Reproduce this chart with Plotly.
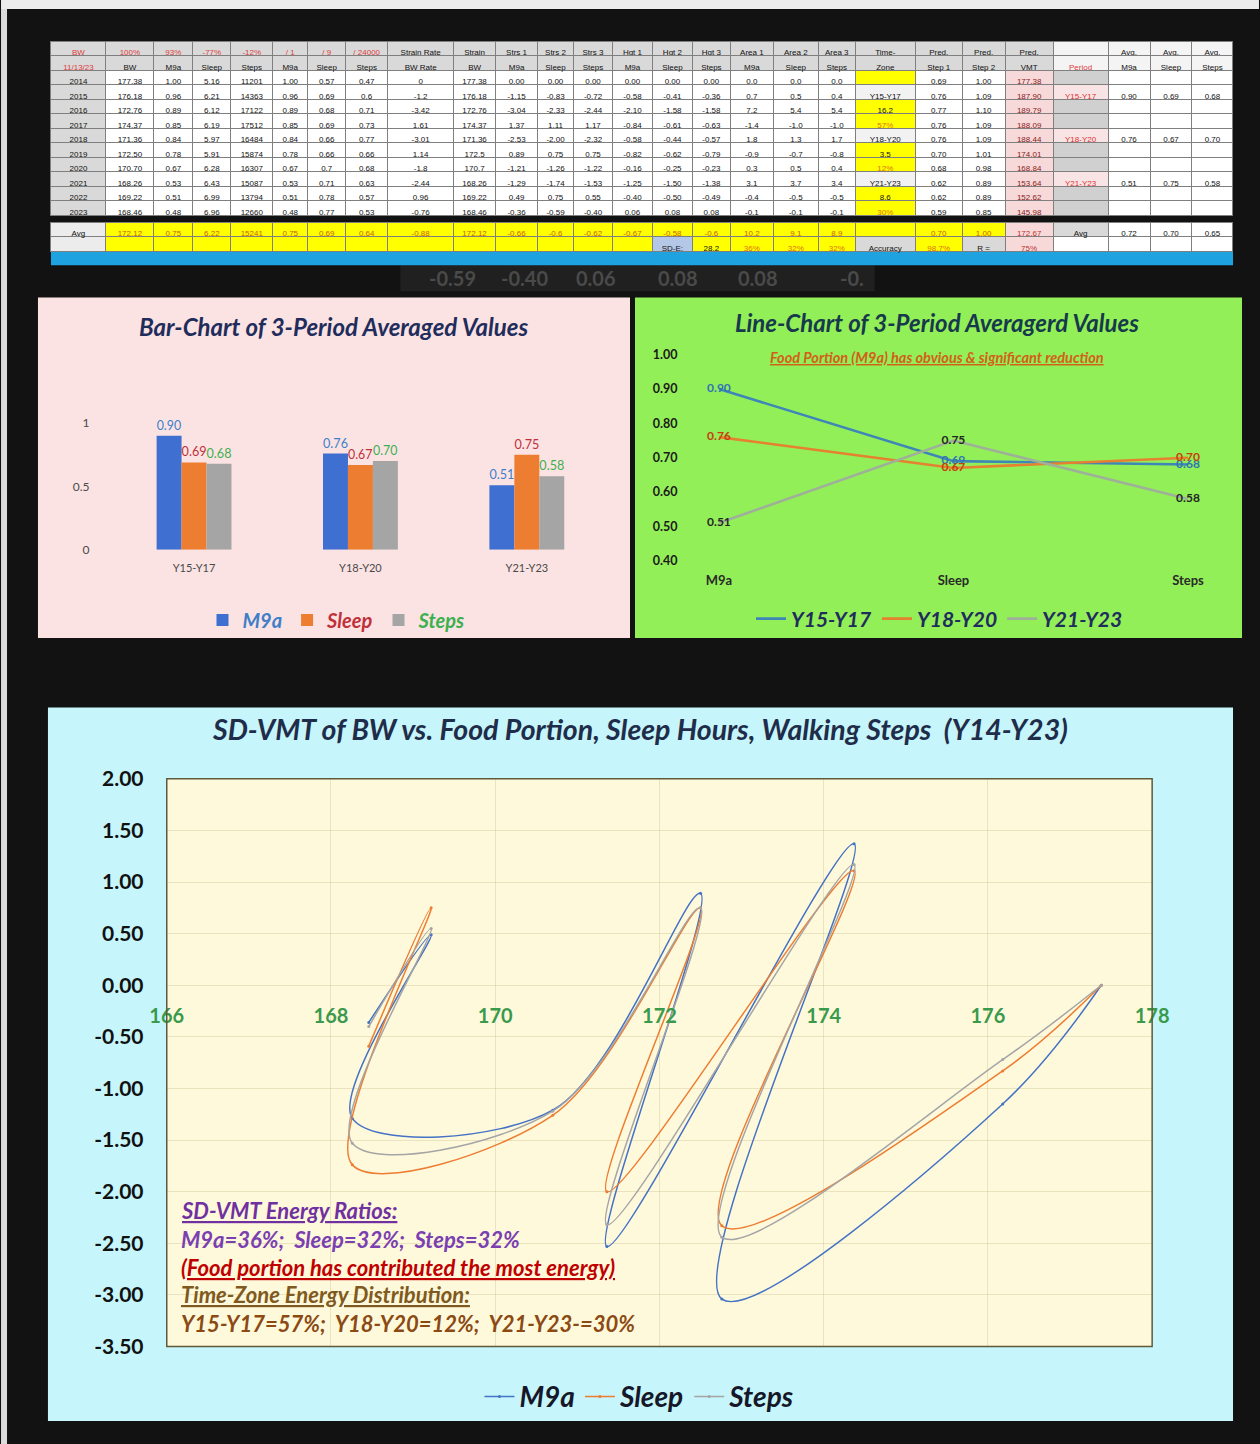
import plotly.graph_objects as go

W, H = 1260, 1444
OFF = 16                      # the renderer leaves a 16 px inset around the paper
FW, FH = W - 2 * OFF, H - 2 * OFF


def fx(px):
    return (px - OFF) / FW


def fy(py):
    return 1 - (py - OFF) / FH


NB = "\u00a0"

# ---------------- data: yearly table ----------------
years = ["2014", "2015", "2016", "2017", "2018", "2019", "2020", "2021", "2022", "2023"]
strain_bw = [177.38, 176.18, 172.76, 174.37, 171.36, 172.50, 170.70, 168.26, 169.22, 168.46]
strs_m9a = [0.00, -1.15, -3.04, 1.37, -2.53, 0.89, -1.21, -1.29, 0.49, -0.36]
strs_sleep = [0.00, -0.83, -2.33, 1.11, -2.00, 0.75, -1.26, -1.74, 0.75, -0.59]
strs_steps = [0.00, -0.72, -2.44, 1.17, -2.32, 0.75, -1.22, -1.53, 0.55, -0.40]

hdr_row1 = ["BW", "100%", "93%", "-77%", "-12%", "/ 1", "/ 9", "/ 24000", "Strain Rate", "Strain",
            "Strs 1", "Strs 2", "Strs 3", "Hgt 1", "Hgt 2", "Hgt 3", "Area 1", "Area 2", "Area 3",
            "Time-", "Pred.", "Pred.", "Pred.", "", "Avg.", "Avg.", "Avg."]
hdr_row2 = ["11/13/23", "BW", "M9a", "Sleep", "Steps", "M9a", "Sleep", "Steps", "BW Rate", "BW",
            "M9a", "Sleep", "Steps", "M9a", "Sleep", "Steps", "M9a", "Sleep", "Steps",
            "Zone", "Step 1", "Step 2", "VMT", "Period", "M9a", "Sleep", "Steps"]

col_bw = ["177.38", "176.18", "172.76", "174.37", "171.36", "172.50", "170.70", "168.26", "169.22", "168.46"]
col_m9a = ["1.00", "0.96", "0.89", "0.85", "0.84", "0.78", "0.67", "0.53", "0.51", "0.48"]
col_sleep = ["5.16", "6.21", "6.12", "6.19", "5.97", "5.91", "6.28", "6.43", "6.99", "6.96"]
col_steps = ["11201", "14363", "17122", "17512", "16484", "15874", "16307", "15087", "13794", "12660"]
col_m9a_n = ["1.00", "0.96", "0.89", "0.85", "0.84", "0.78", "0.67", "0.53", "0.51", "0.48"]
col_sleep_n = ["0.57", "0.69", "0.68", "0.69", "0.66", "0.66", "0.7", "0.71", "0.78", "0.77"]
col_steps_n = ["0.47", "0.6", "0.71", "0.73", "0.77", "0.66", "0.68", "0.63", "0.57", "0.53"]
col_bw_rate = ["0", "-1.2", "-3.42", "1.61", "-3.01", "1.14", "-1.8", "-2.44", "0.96", "-0.76"]
col_strain_bw = ["177.38", "176.18", "172.76", "174.37", "171.36", "172.5", "170.7", "168.26", "169.22", "168.46"]
col_strs1 = ["0.00", "-1.15", "-3.04", "1.37", "-2.53", "0.89", "-1.21", "-1.29", "0.49", "-0.36"]
col_strs2 = ["0.00", "-0.83", "-2.33", "1.11", "-2.00", "0.75", "-1.26", "-1.74", "0.75", "-0.59"]
col_strs3 = ["0.00", "-0.72", "-2.44", "1.17", "-2.32", "0.75", "-1.22", "-1.53", "0.55", "-0.40"]
col_hgt1 = ["0.00", "-0.58", "-2.10", "-0.84", "-0.58", "-0.82", "-0.16", "-1.25", "-0.40", "0.06"]
col_hgt2 = ["0.00", "-0.41", "-1.58", "-0.61", "-0.44", "-0.62", "-0.25", "-1.50", "-0.50", "0.08"]
col_hgt3 = ["0.00", "-0.36", "-1.58", "-0.63", "-0.57", "-0.79", "-0.23", "-1.38", "-0.49", "0.08"]
col_area1 = ["0.0", "0.7", "7.2", "-1.4", "1.8", "-0.9", "0.3", "3.1", "-0.4", "-0.1"]
col_area2 = ["0.0", "0.5", "5.4", "-1.0", "1.3", "-0.7", "0.5", "3.7", "-0.5", "-0.1"]
col_area3 = ["0.0", "0.4", "5.4", "-1.0", "1.7", "-0.8", "0.4", "3.4", "-0.5", "-0.1"]
col_zone = ["", "Y15-Y17", "16.2", "57%", "Y18-Y20", "3.5", "12%", "Y21-Y23", "8.6", "30%"]
col_pred1 = ["0.69", "0.76", "0.77", "0.76", "0.76", "0.70", "0.68", "0.62", "0.62", "0.59"]
col_pred2 = ["1.00", "1.09", "1.10", "1.09", "1.09", "1.01", "0.98", "0.89", "0.89", "0.85"]
col_pred_vmt = ["177.38", "187.90", "189.79", "188.09", "188.44", "174.01", "168.84", "153.64", "152.62", "145.98"]
col_period = ["", "Y15-Y17", "", "", "Y18-Y20", "", "", "Y21-Y23", "", ""]
col_avg_m9a = ["", "0.90", "", "", "0.76", "", "", "0.51", "", ""]
col_avg_sleep = ["", "0.69", "", "", "0.67", "", "", "0.75", "", ""]
col_avg_steps = ["", "0.68", "", "", "0.70", "", "", "0.58", "", ""]

avg_row = ["Avg", "172.12", "0.75", "6.22", "15241", "0.75", "0.69", "0.64", "-0.88", "172.12",
           "-0.66", "-0.6", "-0.62", "-0.67", "-0.58", "-0.6", "10.2", "9.1", "8.9", "",
           "0.70", "1.00", "172.67", "Avg", "0.72", "0.70", "0.65"]
sd_row = ["", "", "", "", "", "", "", "", "", "", "", "", "", "", "SD-E:", "28.2", "36%", "32%", "32%",
          "Accuracy", "98.7%", "R =", "75%", "", "", "", ""]

# faint background values visible between the table and the charts
ghost_vals = ["-0.59", "-0.40", "0.06", "0.08", "0.08", "-0."]
ghost_x = [452, 524, 596, 678, 758, 852]

# ---------------- data: 3-period averages ----------------
periods = ["Y15-Y17", "Y18-Y20", "Y21-Y23"]
factors = ["M9a", "Sleep", "Steps"]
avg_m9a = [0.90, 0.76, 0.51]
avg_sleep = [0.69, 0.67, 0.75]
avg_steps = [0.68, 0.70, 0.58]

# big chart tick labels
x3_ticks = [166, 168, 170, 172, 174, 176, 178]
y3_ticks = [2.0, 1.5, 1.0, 0.5, 0.0, -0.5, -1.0, -1.5, -2.0, -2.5, -3.0, -3.5]
y3_labels = ["2.00", "1.50", "1.00", "0.50", "0.00", "-0.50", "-1.00", "-1.50", "-2.00", "-2.50", "-3.00", "-3.50"]

# ---------------- styles ----------------
C_BLUE, C_ORANGE, C_GRAY = "#4472c4", "#ed7d31", "#a5a5a5"
FONT = "Lato, 'Open Sans', sans-serif"
TFONT = "'Liberation Sans', Arial, sans-serif"
BG = "#121212"
ROW_H = 14.5
TSIZE = 8


def nb(s):
    return s.replace(" ", NB)


fig = go.Figure()

# ---------------- table ----------------
table_cols = [years, col_bw, col_m9a, col_sleep, col_steps, col_m9a_n, col_sleep_n, col_steps_n,
              col_bw_rate, col_strain_bw, col_strs1, col_strs2, col_strs3, col_hgt1, col_hgt2, col_hgt3,
              col_area1, col_area2, col_area3, col_zone, col_pred1, col_pred2, col_pred_vmt,
              col_period, col_avg_m9a, col_avg_sleep, col_avg_steps]
ncol = len(table_cols)
col_px = [55, 48, 39, 38, 42, 35, 38, 42, 66, 42, 42, 36, 39, 40, 40, 38, 43, 45, 37,
          60, 47, 43, 48, 55, 42, 42, 41]

hdr_fill, hdr_font = [], []
cell_fill, cell_font = [], []
for i, col in enumerate(table_cols):
    hdr_fill.append(["#d9d9d9", "#d9d9d9"] if i < 23 else ["#f4f4f4", "#f4f4f4"])
    r1 = "#e03c3c" if i <= 7 else "#111111"
    r2 = "#e03c3c" if i in (0, 23) else "#111111"
    hdr_font.append([r1, r2])
    fills, fonts = [], []
    for v in col:
        if i == 0:
            fills.append("#d9d9d9"); fonts.append("#111111")
        elif i == 19:
            fills.append("#f2f2f2" if v.startswith("Y") else "#ffff00")
            fonts.append("#e07010" if v.endswith("%") else "#111111")
        elif i == 22:
            fills.append("#f7d9d9"); fonts.append("#8b1a1a")
        elif i == 23:
            fills.append("#f8e4e4" if v else "#d0d0d0"); fonts.append("#e03030")
        else:
            fills.append("#ffffff"); fonts.append("#111111")
    cell_fill.append(fills)
    cell_font.append(fonts)

fig.add_trace(go.Table(
    domain=dict(x=[fx(50), fx(1234)], y=[fy(228), fy(43)]),
    columnwidth=col_px,
    header=dict(values=[[nb(a), nb(b)] for a, b in zip(hdr_row1, hdr_row2)],
                fill_color=hdr_fill, line=dict(color="#7f7f7f", width=1),
                font=dict(family=TFONT, size=TSIZE, color=hdr_font), height=ROW_H, align="center"),
    cells=dict(values=[[nb(v) for v in col] for col in table_cols], fill_color=cell_fill,
               line=dict(color="#7f7f7f", width=1),
               font=dict(family=TFONT, size=TSIZE, color=cell_font), height=ROW_H, align="center"),
))

# avg + SD rows
avg_fill, avg_font, sd_fill, sd_font = [], [], [], []
for i in range(ncol):
    if i == 0:
        avg_fill.append("#ececec"); avg_font.append("#111111")
        sd_fill.append("#ececec"); sd_font.append("#111111")
        continue
    if i == 22:
        avg_fill.append("#f7d9d9"); avg_font.append("#c03030")
        sd_fill.append("#f7d9d9"); sd_font.append("#c03030")
        continue
    if i >= 23:
        avg_fill.append("#d9d9d9" if i == 23 else "#ffffff"); avg_font.append("#111111")
        sd_fill.append("#ffffff"); sd_font.append("#111111")
        continue
    avg_fill.append("#ffff00"); avg_font.append("#d05a00")
    if i == 14:
        sd_fill.append("#b4c7e7"); sd_font.append("#111111")
    elif i in (19, 21):
        sd_fill.append("#d9d9d9"); sd_font.append("#111111")
    elif i == 15:
        sd_fill.append("#ffff00"); sd_font.append("#111111")
    else:
        sd_fill.append("#ffff00"); sd_font.append("#e07010")

fig.add_trace(go.Table(
    domain=dict(x=[fx(50), fx(1234)], y=[fy(258), fy(223)]),
    columnwidth=col_px,
    header=dict(values=[[nb(v)] for v in avg_row], fill_color=avg_fill,
                line=dict(color="#7f7f7f", width=1),
                font=dict(family=TFONT, size=TSIZE, color=avg_font), height=ROW_H, align="center"),
    cells=dict(values=[[nb(v)] for v in sd_row], fill_color=sd_fill,
               line=dict(color="#7f7f7f", width=1),
               font=dict(family=TFONT, size=TSIZE, color=sd_font), height=ROW_H, align="center"),
))

# ---------------- bar chart ----------------
bar_series = [("M9a", avg_m9a, "#3f6fd0", "#3f7fc8"),
              ("Sleep", avg_sleep, C_ORANGE, "#c0303a"),
              ("Steps", avg_steps, C_GRAY, "#3cb050")]
for name, vals, col, lab in bar_series:
    fig.add_trace(go.Bar(
        x=periods, y=vals, name=f"<span style='color:{lab}'>{name}</span>",
        marker=dict(color=col, line=dict(width=0)),
        text=[f"{v:.2f}" for v in vals], textposition="outside",
        textfont=dict(family=FONT, size=13, color=lab), cliponaxis=False,
        xaxis="x", yaxis="y", legend="legend2",
    ))

# ---------------- line chart ----------------
line_series = [("Y15-Y17", 0, "#3f86b8", "#2f75b5"),
               ("Y18-Y20", 1, "#e58130", "#c5400f"),
               ("Y21-Y23", 2, "#9fb09a", "#262626")]
for name, idx, col, lab in line_series:
    vals = [avg_m9a[idx], avg_sleep[idx], avg_steps[idx]]
    fig.add_trace(go.Scatter(
        x=factors, y=vals, name=name, mode="lines",
        line=dict(color=col, width=2.6), xaxis="x2", yaxis="y2", legend="legend3",
    ))
for name, idx, col, lab in line_series:
    vals = [avg_m9a[idx], avg_sleep[idx], avg_steps[idx]]
    fig.add_trace(go.Scatter(
        x=factors, y=vals, mode="text", text=[f"{v:.2f}" for v in vals],
        textposition="middle center", textfont=dict(family=FONT, size=12, color=lab, weight="bold"),
        showlegend=False, xaxis="x2", yaxis="y2", cliponaxis=False,
    ))

# ---------------- big SD-VMT chart ----------------
for name, ys, col in [("M9a", strs_m9a, C_BLUE), ("Sleep", strs_sleep, C_ORANGE), ("Steps", strs_steps, C_GRAY)]:
    fig.add_trace(go.Scatter(
        x=strain_bw, y=ys, name=name, mode="lines+markers",
        line=dict(color=col, width=1.5, shape="spline", smoothing=1.0),
        marker=dict(size=3, color=col),
        xaxis="x3", yaxis="y3", legend="legend",
    ))

# ---------------- layout ----------------
big_top, big_bot = 777, 1342
y_rng = (-3.5, 2.0)
zero_px = big_top + (y_rng[1] - 0) / (y_rng[1] - y_rng[0]) * (big_bot - big_top)

transparent = "rgba(0,0,0,0)"


def prect(x0, x1, y0, y1, color):
    return dict(type="rect", xref="paper", yref="paper", x0=fx(x0), x1=fx(x1), y0=fy(y1), y1=fy(y0),
                fillcolor=color, line=dict(width=0), layer="below")


shapes = [
    prect(0, 1260, 0, 11, "#ededed"),
    prect(0, 6, 11, 1444, "#dcdcdc"),
    prect(400, 875, 266, 292, "#202020"),
    prect(50, 1234, 252, 266, "#1fa3e0"),
    prect(37, 630, 298, 637, "#fce3e3"),
    prect(635, 1243, 298, 637, "#93ef57"),
    prect(47, 1234, 706, 1416, "#c6f6fb"),
    dict(type="rect", xref="x3 domain", yref="y3 domain", x0=0, x1=1, y0=0, y1=1,
         fillcolor="#fff9dc", line=dict(width=0), layer="below"),
    dict(type="rect", xref="x3 domain", yref="y3 domain", x0=0, x1=1, y0=0, y1=1,
         fillcolor=transparent, line=dict(color="#5f5a3a", width=1.5), layer="above"),
]


def ann(text, px, py, size, color, xanchor="center", underline=False, italic=True, bold=True):
    t = f"<u>{text}</u>" if underline else text
    return dict(text=t, x=fx(px), y=fy(py), xref="paper", yref="paper", showarrow=False,
                xanchor=xanchor, yanchor="middle",
                font=dict(family=FONT, size=size, color=color,
                          weight="bold" if bold else "normal",
                          style="italic" if italic else "normal"))


annotations = [ann(v, gx, 279, 20, "#4a4a4a", italic=False) for v, gx in zip(ghost_vals, ghost_x)]
annotations += [
    ann("Bar-Chart of 3-Period Averaged Values", 333, 327, 24, "#1f2d5c"),
    ann("Line-Chart of 3-Period Averagerd Values", 937, 323, 24, "#163a4c"),
    ann("Food Portion (M9a) has obvious &amp; significant reduction", 938, 358, 14.5, "#d2601a", underline=True),
    ann("SD-VMT of BW vs. Food Portion, Sleep Hours, Walking Steps  (Y14-Y23)", 640, 727, 28.5, "#1f2d4a"),
    ann("SD-VMT Energy Ratios:", 178, 1207, 22, "#7030a0", xanchor="left", underline=True),
    ann("M9a=36%;  Sleep=32%;  Steps=32%", 178, 1235, 22, "#7a3fb0", xanchor="left"),
    ann("(Food portion has contributed the most energy)", 178, 1263, 22, "#c00000", xanchor="left", underline=True),
    ann("Time-Zone Energy Distribution:", 178, 1290, 22, "#7f5a20", xanchor="left", underline=True),
    ann("Y15-Y17=57%;  Y18-Y20=12%;  Y21-Y23-=30%", 178, 1319, 22, "#8b4a13", xanchor="left"),
]

grid3 = "rgba(190,175,120,0.30)"
fig.update_layout(
    width=W, height=H, autosize=False,
    margin=dict(l=0, r=0, t=0, b=0, pad=0),
    paper_bgcolor=BG, plot_bgcolor=transparent,
    barmode="group", bargap=0.55, bargroupgap=0.0,
    shapes=shapes, annotations=annotations,
    xaxis=dict(domain=[fx(110), fx(610)], anchor="y", showgrid=False, zeroline=False, showline=False,
               ticks="outside", ticklen=8, tickcolor=transparent,
               tickfont=dict(family=FONT, size=11, color="#4a4a4a")),
    yaxis=dict(domain=[fy(549), fy(398)], anchor="x", range=[0, 1.2], dtick=0.5, showgrid=False,
               zeroline=False, showline=False, ticks="outside", ticklen=18, tickcolor=transparent,
               tickfont=dict(family=FONT, size=12, color="#4a4a4a")),
    xaxis2=dict(domain=[fx(693), fx(1215)], anchor="y2", showgrid=False, zeroline=False, showline=False,
                ticks="outside", ticklen=8, tickcolor=transparent,
                tickfont=dict(family=FONT, size=13, color="#2a2a2a", weight="bold")),
    yaxis2=dict(domain=[fy(560), fy(355)], anchor="x2", range=[0.4, 1.0], dtick=0.1, tickformat=".2f",
                showgrid=False, zeroline=False, showline=False, ticks="outside", ticklen=12,
                tickcolor=transparent, tickfont=dict(family=FONT, size=12.5, color="#1a1a1a", weight="bold")),
    xaxis3=dict(domain=[fx(166), fx(1153)], anchor="free", position=fy(zero_px), range=[166, 178],
                tickvals=x3_ticks, showgrid=True, gridcolor=grid3, gridwidth=1, zeroline=False,
                showline=False, ticks="outside", ticklen=13, tickcolor=transparent,
                tickfont=dict(family=FONT, size=20, color="#3a9a4c", weight="bold")),
    yaxis3=dict(domain=[fy(big_bot), fy(big_top)], anchor="x3", range=list(y_rng),
                tickvals=y3_ticks, ticktext=y3_labels, showgrid=True, gridcolor=grid3, gridwidth=1,
                zeroline=False, showline=False, ticks="outside", ticklen=18, tickcolor=transparent,
                tickfont=dict(family=FONT, size=21, color="#111111", weight="bold")),
    legend=dict(orientation="h", x=fx(640), xanchor="center", y=fy(1392), yanchor="middle",
                bgcolor=transparent, font=dict(family=FONT, size=28, color="#16182a", weight="bold", style="italic"),
                itemwidth=30),
    legend2=dict(orientation="h", x=fx(336), xanchor="center", y=fy(619), yanchor="middle",
                 bgcolor=transparent, font=dict(family=FONT, size=20, color="#333", weight="bold", style="italic")),
    legend3=dict(orientation="h", x=fx(940), xanchor="center", y=fy(618), yanchor="middle",
                 bgcolor=transparent, font=dict(family=FONT, size=21, color="#1f2d5c", weight="bold", style="italic")),
    showlegend=True,
)

fig.write_html("out.html", config={"displayModeBar": False},
               post_script=f"document.body.style.margin='0';document.body.style.background='{BG}';")
